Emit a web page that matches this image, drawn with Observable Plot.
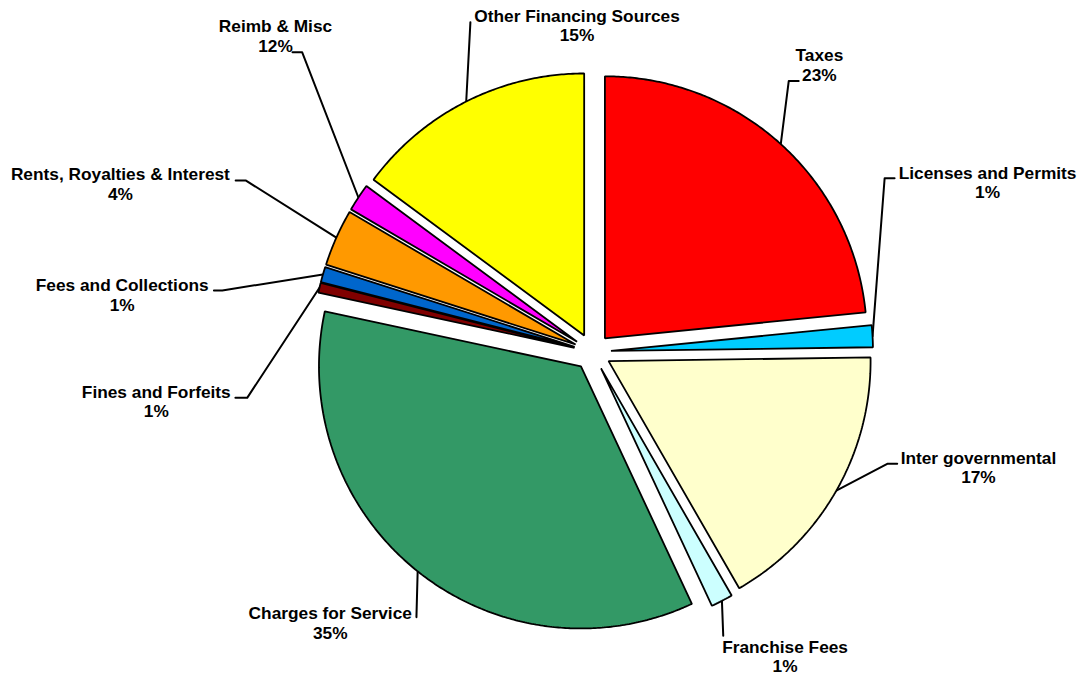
<!DOCTYPE html>
<html>
<head>
<meta charset="utf-8">
<script src="https://cdn.jsdelivr.net/npm/d3@7"></script>
<script src="https://cdn.jsdelivr.net/npm/@observablehq/plot@0.6"></script>
<style>
html, body { margin: 0; padding: 0; background: #ffffff; }
#chart svg { display: block; }
</style>
</head>
<body>
<div id="chart"></div>
<script>
// ---- data (clockwise from 12 o'clock) ----
const categories = [
  "Taxes", "Licenses and Permits", "Inter governmental", "Franchise Fees",
  "Charges for Service", "Fines and Forfeits", "Fees and Collections",
  "Rents, Royalties & Interest", "Reimb & Misc", "Other Financing Sources"
];
const values = [23.4, 1.35, 16.9, 1.35, 35.3, 0.6, 0.95, 3.5, 1.7, 14.85];
const pctLabels = ["23%", "1%", "17%", "1%", "35%", "1%", "1%", "4%", "12%", "15%"];
const sliceColors = [
  "#FF0000", "#00CCFF", "#FFFFCC", "#CCFFFF", "#339966",
  "#800000", "#0066CC", "#FF9900", "#FF00FF", "#FFFF00"
];

// ---- label layout (in pie-radius units, relative to the pie centre) ----
const labelX = [0.866, 1.508, 1.473, 0.735, -1.001, -1.665, -1.795, -1.802, -1.210, -0.059];
const labelY = [1.036, 0.587, -0.501, -1.222, -1.095, -0.249, 0.158, 0.581, 1.146, 1.186]; // baseline of the % line
const elbowX = [0.749, 1.115, 1.125, 0.499, -0.672, -1.318, -1.413, -1.324, -1.108, -0.466];
const elbowY = [1.034, 0.663, -0.427, -1.083, -1.012, -0.175, 0.235, 0.655, 1.144, 1.259];
const stubLen = [0.038, 0.038, 0.038, 0, 0, -0.045, -0.032, -0.038, -0.037, 0];

const EXPLODE = 0.0706;

const rows = categories.map((name, i) => ({name, value: values[i], pct: pctLabels[i]}));
const arcs = d3.pie().sort(null).value(d => d.value).startAngle(0).endAngle(2 * Math.PI)(rows);

const slicePts = [];
const leaderPts = [];
const labelRows = [];
arcs.forEach((a, i) => {
  const name = a.data.name;
  const mid = (a.startAngle + a.endAngle) / 2;
  const cx = EXPLODE * Math.sin(mid), cy = EXPLODE * Math.cos(mid);
  slicePts.push({name, x: cx, y: cy});
  const n = Math.max(2, Math.ceil((a.endAngle - a.startAngle) / (Math.PI / 360)));
  for (let k = 0; k <= n; ++k) {
    const t = a.startAngle + (a.endAngle - a.startAngle) * k / n;
    slicePts.push({name, x: cx + Math.sin(t), y: cy + Math.cos(t)});
  }
  const px = cx + Math.sin(mid), py = cy + Math.cos(mid);
  leaderPts.push(
    {name, x: elbowX[i] + stubLen[i], y: elbowY[i]},
    {name, x: elbowX[i], y: elbowY[i]},
    {name, x: px, y: py}
  );
  labelRows.push({name, text: name + "\n" + a.data.pct, x: labelX[i], y: labelY[i]});
});

const W = 1080, H = 677;
const R = 262, CX = 592, CY = 351.5;

const chart = Plot.plot({
  width: W,
  height: H,
  margin: 0,
  style: {background: "#ffffff"},
  x: {domain: [-CX / R, (W - CX) / R], axis: null},
  y: {domain: [-(H - CY) / R, CY / R], axis: null},
  color: {domain: categories, range: sliceColors},
  marks: [
    Plot.line(leaderPts, {x: "x", y: "y", z: "name", stroke: "#000000", strokeWidth: 2}),
    Plot.line(slicePts, {
      x: "x", y: "y", z: "name", fill: "name", stroke: "#000000",
      strokeWidth: 1.8, strokeLinejoin: "miter", curve: "linear-closed"
    }),
    Plot.text(labelRows, {
      x: "x", y: "y", text: "text",
      lineAnchor: "bottom", lineHeight: 1.13,
      textAnchor: "middle",
      fontSize: 17.3, fontWeight: "bold",
      fontFamily: "'Liberation Sans', Arial, sans-serif",
      fill: "#000000"
    })
  ]
});

document.getElementById("chart").appendChild(chart);
</script>
</body>
</html>
